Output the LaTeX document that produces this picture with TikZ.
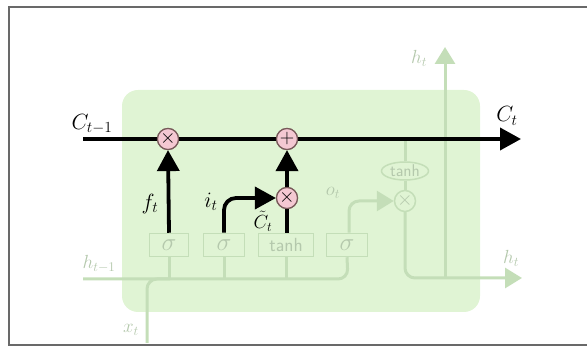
\RequirePackage{fix-cm}
\documentclass[tikz,border=0pt]{standalone}
\usetikzlibrary{arrows.meta,shapes.geometric}
\definecolor{cellfill}{RGB}{224,244,212}
\definecolor{faded}{RGB}{196,222,184}
\definecolor{fadedtxt}{RGB}{180,200,172}
\definecolor{pinkfill}{RGB}{244,200,210}
\definecolor{pinkdraw}{RGB}{120,90,90}
\definecolor{framegray}{RGB}{105,105,105}
\tikzset{
  mainline/.style={line width=3.8pt,black},
  mainarrow/.style={mainline,-{Triangle[width=22pt,length=21pt]}},
  fadeline/.style={line width=3pt,faded},
  fadearrow/.style={fadeline,-{Triangle[width=20pt,length=17pt]}},
  opcircle/.style={circle,draw=pinkdraw,fill=pinkfill,line width=1.2pt,minimum size=21pt,inner sep=0pt,font=\fontsize{20}{20}\selectfont},
  fadecircle/.style={circle,draw=faded,fill=cellfill,line width=1.5pt,minimum size=21pt,inner sep=0pt,text=fadedtxt,font=\fontsize{20}{20}\selectfont},
  gatebox/.style={rectangle,draw=faded,fill=cellfill,line width=1.5pt,minimum height=23pt,inner sep=0pt,text=fadedtxt,font=\fontsize{19}{19}\selectfont\sffamily},
  mainlabel/.style={font=\fontsize{22}{22}\selectfont,text=black},
  fadelabel/.style={font=\fontsize{19}{19}\selectfont,text=fadedtxt},
}
\begin{document}
\begin{tikzpicture}[x=1pt,y=-1pt]
\useasboundingbox (0,0) rectangle (587,347);
% frame
\draw[framegray,line width=1.5pt] (587,7) -- (9,7) -- (9,345) -- (587,345);
% cell body
\node[draw=none,fill=cellfill,rounded corners=16pt,minimum width=358pt,minimum height=222pt,inner sep=0pt] (cell) at (301,201) {};
% gate boxes
\node[gatebox,minimum width=39pt] (sf) at (169,245) {\fontsize{25}{25}\selectfont$\sigma$};
\node[gatebox,minimum width=41pt] (si) at (224,245) {\fontsize{25}{25}\selectfont$\sigma$};
\node[gatebox,minimum width=55pt] (tc) at (286,245) {tanh};
\node[gatebox,minimum width=41pt] (so) at (347,245) {\fontsize{25}{25}\selectfont$\sigma$};
% output section
\node[fadecircle] (mo) at (405,201) {$\times$};
\node[ellipse,draw=faded,fill=cellfill,line width=1.5pt,minimum width=47pt,minimum height=18pt,inner sep=0pt,text=fadedtxt,font=\fontsize{17}{17}\selectfont\sffamily] (th) at (405,171) {tanh};
% coordinates
\coordinate (hin) at (83,279);
\coordinate (xin) at (147,343);
\coordinate (hout) at (522,278);
\coordinate (htop) at (445,47);
\coordinate (cin) at (83,139);
\coordinate (cout) at (521,139);
% faded lines
\draw[fadeline,rounded corners=10pt] (hin) -- (348,279) -- (so.south);
\draw[fadeline,rounded corners=10pt] (xin) -- (147,279) -- (170,279);
\draw[fadeline] (sf.south) -- (sf.south |- hin);
\draw[fadeline] (si.south) -- (si.south |- hin);
\draw[fadeline] (tc.south) -- (tc.south |- hin);
\draw[fadearrow,rounded corners=10pt] (so.north -| 349,0) -- (349,201) -- (mo.west);
\draw[fadeline] (405,139) -- (th.north);
\draw[fadeline] (th.south) -- (mo.north);
\draw[fadearrow,rounded corners=10pt] (mo.south) -- (405,278) -- (hout);
\draw[fadearrow] (445,278) -- (htop);
% faded labels
\node[fadelabel] (lht1) at (99,264) {$h_{t-1}$};
\node[fadelabel] (lxt) at (131,330) {$x_t$};
\node[fadelabel] (lot) at (333,193) {$o_t$};
\node[fadelabel] (lht2) at (419,58) {$h_t$};
\node[fadelabel] (lht3) at (511,258) {$h_t$};
% main ops
\node[opcircle] (mf) at (168,139) {$\times$};
\node[opcircle] (ad) at (287,139) {$+$};
\node[opcircle] (mi) at (287,198) {$\times$};
% main arrows
\draw[mainline] (cin) -- (mf.west);
\draw[mainline] (mf.east) -- (ad.west);
\draw[mainarrow] (ad.east) -- (cout);
\draw[mainarrow] (sf.north) -- (mf.south);
\draw[mainarrow,rounded corners=12pt] (si.north) -- (224,198) -- (mi.west);
\draw[mainline] (tc.north -| mi.south) -- (mi.south);
\draw[mainarrow] (mi.north) -- (ad.south);
% redraw circles on top
\node[opcircle] at (mf) {$\times$};
\node[opcircle] at (ad) {$+$};
\node[opcircle] at (mi) {$\times$};
% main labels
\node[mainlabel] (lc1) at (92,124) {$C_{t-1}$};
\node[mainlabel] (lc2) at (507,116) {$C_t$};
\node[mainlabel] (lft) at (150,204) {$f_t$};
\node[mainlabel] (lit) at (211,202) {$i_t$};
\node[mainlabel,inner sep=0pt,font=\fontsize{19}{19}\selectfont] (lct) at (263,221) {$\tilde{C}_t$};
\end{tikzpicture}
\end{document}
